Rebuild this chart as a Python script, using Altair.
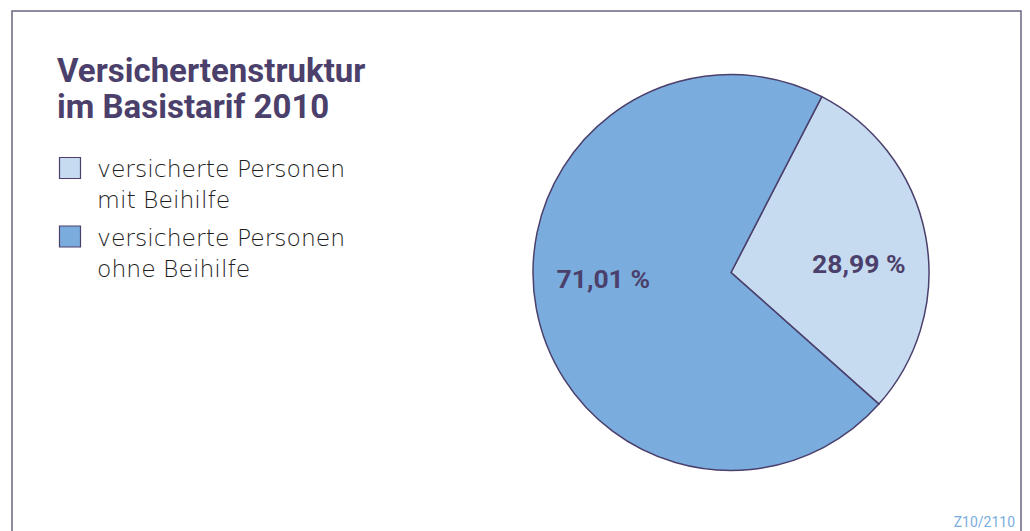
import math
import altair as alt
import pandas as pd

categories = ["versicherte Personen mit Beihilfe", "versicherte Personen ohne Beihilfe"]
legend_labels = ["versicherte Personen|mit Beihilfe", "versicherte Personen|ohne Beihilfe"]
values = [28.99, 71.01]
labels = ["28,99 %", "71,01 %"]
order = [1, 2]

title_text = "Versichertenstruktur|im Basistarif 2010"
source_note = "Z10/2110"

PURPLE = "#4b3f6b"
LIGHT = "#c6daf0"
DARK = "#7aadde"
FONT = "Roboto"

df = pd.DataFrame({"cat": categories, "value": values, "label": labels,
                   "order": order, "legend": legend_labels})

W, H = 1014, 523
CX, CY = 723, 264.5
R = 198
start = math.radians(27.3)
label_shift = math.radians(7)

color_scale = alt.Scale(domain=categories, range=[LIGHT, DARK])

pie = alt.Chart(df).mark_arc(outerRadius=R, stroke=PURPLE, strokeWidth=1.5).encode(
    theta=alt.Theta("value:Q", stack=True, scale=alt.Scale(range=[start, start + 2 * math.pi])),
    order=alt.Order("order:Q"),
    color=alt.Color("cat:N", scale=color_scale, legend=None),
    x=alt.value(CX),
    y=alt.value(CY),
)

text = alt.Chart(df).mark_text(
    radius=128, font=FONT, fontSize=26.5, fontWeight="bold", color=PURPLE
).encode(
    theta=alt.Theta(
        "value:Q", stack=True,
        scale=alt.Scale(range=[start + label_shift, start + label_shift + 2 * math.pi]),
    ),
    order=alt.Order("order:Q"),
    text="label:N",
    x=alt.value(CX),
    y=alt.value(CY),
)

legend_y = alt.Y("cat:N", scale=alt.Scale(domain=categories, range=[160, 228.5], padding=0), axis=None)

leg_sym = alt.Chart(df).mark_square(size=441, stroke=PURPLE, strokeWidth=1.2, opacity=1).encode(
    x=alt.value(62),
    y=legend_y,
    fill=alt.Fill("cat:N", scale=color_scale, legend=None),
)

leg_txt = alt.Chart(df).mark_text(
    align="left", baseline="alphabetic", dy=9, font="DejaVu Sans", fontSize=23.5, fontWeight=300,
    color="#1e1e1e", lineBreak="|", lineHeight=31,
).encode(x=alt.value(89), y=legend_y, text="legend:N")

title = alt.Chart(pd.DataFrame({"t": [title_text]})).mark_text(
    align="left", baseline="alphabetic", font=FONT, fontSize=33, fontWeight="bold",
    color=PURPLE, lineBreak="|", lineHeight=36,
).encode(text="t:N", x=alt.value(49), y=alt.value(74))

frame = alt.Chart(df.head(1)).mark_rect(filled=False, stroke="#6b6480", strokeWidth=1.5).encode(
    x=alt.value(4), x2=alt.value(1013), y=alt.value(3), y2=alt.value(700)
)

note = alt.Chart(pd.DataFrame({"t": [source_note]})).mark_text(
    align="right", baseline="alphabetic", font=FONT, fontSize=14, color=DARK
).encode(text="t:N", x=alt.value(1007), y=alt.value(519))

chart = alt.layer(frame, pie, text, leg_sym, leg_txt, title, note).resolve_scale(
    theta="independent"
).properties(
    width=W, height=H, autosize=alt.AutoSizeParams(type="none"), padding=0
).configure_view(stroke=None)

chart.save("out.html", embed_options={"renderer": "svg", "actions": False})
